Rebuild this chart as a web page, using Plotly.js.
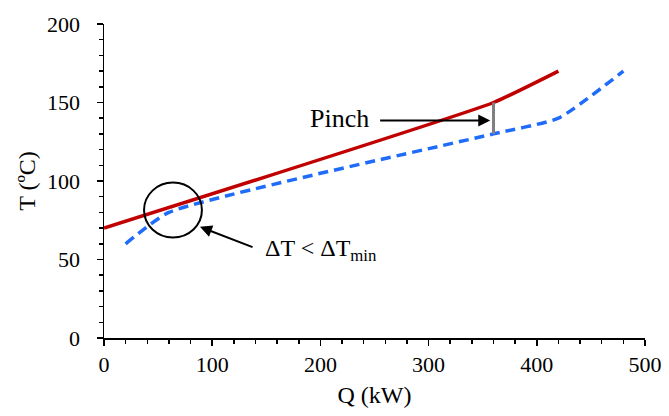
<!DOCTYPE html>
<html>
<head>
<meta charset="utf-8">
<script src="https://cdn.plot.ly/plotly-3.0.1.min.js"></script>
<style>html,body{margin:0;padding:0;background:#fff;}#chart{width:669px;height:416px;}</style>
</head>
<body>
<div id="chart"></div>
<script>
// Hot stream composite curve
var hotQ = [0, 360, 420];
var hotT = [70, 150, 170];
// Cold stream composite curve
var coldQ = [20, 60, 360, 420, 480];
var coldT = [60, 80, 130, 140, 170];
// Pinch marker
var pinchQ = [360, 360];
var pinchT = [130, 150];

var xTickVals = [0, 100, 200, 300, 400, 500];
var yTickVals = [0, 50, 100, 150, 200];

var FONT = "'Liberation Serif', 'Times New Roman', Times, serif";

var traces = [
  {x: hotQ, y: hotT, mode: 'lines', line: {color: '#C00000', width: 3.5, shape: 'spline', smoothing: 0.4}, hoverinfo: 'none'},
  {x: coldQ, y: coldT, mode: 'lines', line: {color: '#1F6BFA', width: 3.5, dash: '10px,6px', shape: 'spline', smoothing: 0.5}, hoverinfo: 'none'},
  {x: pinchQ, y: pinchT, mode: 'lines', line: {color: '#808080', width: 3}, hoverinfo: 'none'}
];

var layout = {
  width: 669, height: 416,
  margin: {l: 104, r: 24, t: 24, b: 78},
  paper_bgcolor: '#fff', plot_bgcolor: '#fff',
  showlegend: false,
  font: {family: FONT, size: 21, color: '#000'},
  xaxis: {
    range: [0, 500], tickvals: xTickVals, showgrid: false, zeroline: false,
    showline: true, linecolor: '#000', linewidth: 1.5,
    ticks: 'outside', ticklen: 6, tickwidth: 1.5, tickcolor: '#000',
    minor: {dtick: 20, ticks: 'outside', ticklen: 4, tickwidth: 1.5, tickcolor: '#000'},
    tickfont: {family: FONT, size: 22, color: '#000'},
    ticklabelstandoff: 0,
    title: {text: 'Q (kW)', font: {family: FONT, size: 24, color: '#000'}, standoff: 10}
  },
  yaxis: {
    range: [0, 200], tickvals: yTickVals, showgrid: false, zeroline: false,
    showline: true, linecolor: '#000', linewidth: 1.5,
    ticks: 'outside', ticklen: 6, tickwidth: 1.5, tickcolor: '#000',
    minor: {dtick: 10, ticks: 'outside', ticklen: 4, tickwidth: 1.5, tickcolor: '#000'},
    tickfont: {family: FONT, size: 22, color: '#000'},
    ticklabelstandoff: 12,
    title: {text: 'T (ºC)', font: {family: FONT, size: 24, color: '#000'}, standoff: 4}
  },
  shapes: [
    {type: 'circle', xref: 'x', yref: 'y', x0: 37, x1: 90.5, y0: 64, y1: 99, line: {color: '#000', width: 2}}
  ],
  annotations: [
    {x: 357, y: 138.6, ax: 251.5, ay: 138.6, xref: 'x', yref: 'y', axref: 'x', ayref: 'y', text: ' ', showarrow: true, arrowhead: 2, arrowsize: 1.2, arrowwidth: 2, arrowcolor: '#000', standoff: 0},
    {x: 246.5, y: 139.6, xref: 'x', yref: 'y', text: 'Pinch', showarrow: false, xanchor: 'right', yanchor: 'middle', font: {family: FONT, size: 26, color: '#000'}},
    {x: 88.7, y: 70.8, ax: 141, ay: 56.9, xref: 'x', yref: 'y', axref: 'x', ayref: 'y', text: ' ', showarrow: true, arrowhead: 2, arrowsize: 1.2, arrowwidth: 2, arrowcolor: '#000', standoff: 0},
    {x: 146.5, y: 56, xref: 'x', yref: 'y', text: 'ΔT < ΔT<sub>min</sub>', showarrow: false, xanchor: 'left', yanchor: 'middle', font: {family: FONT, size: 24, color: '#000'}}
  ]
};

Plotly.newPlot('chart', traces, layout, {displayModeBar: false, staticPlot: true});
</script>
</body>
</html>
